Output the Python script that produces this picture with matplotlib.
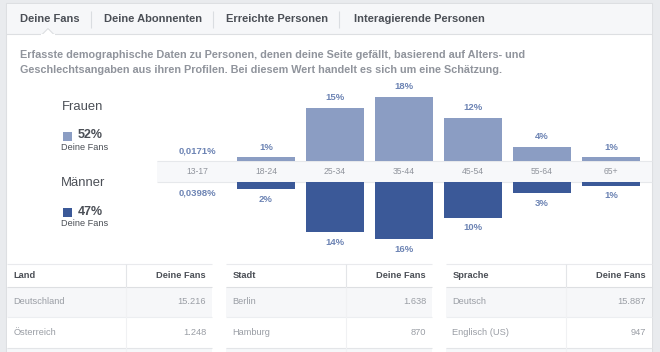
import matplotlib
matplotlib.use("Agg")
import matplotlib.pyplot as plt
from matplotlib.patches import Rectangle, Polygon
from matplotlib import font_manager

# ---------------- data ----------------
tabs = ["Deine Fans", "Deine Abonnenten", "Erreichte Personen", "Interagierende Personen"]
description = ["Erfasste demographische Daten zu Personen, denen deine Seite gefällt, basierend auf Alters- und",
               "Geschlechtsangaben aus ihren Profilen. Bei diesem Wert handelt es sich um eine Schätzung."]
age_groups = ["13-17", "18-24", "25-34", "35-44", "45-54", "55-64", "65+"]
women = [0.0171, 1, 15, 18, 12, 4, 1]
men = [0.0398, 2, 14, 16, 10, 3, 1]
women_labels = ["0,0171%", "1%", "15%", "18%", "12%", "4%", "1%"]
men_labels = ["0,0398%", "2%", "14%", "16%", "10%", "3%", "1%"]
women_total = "52%"
men_total = "47%"

countries = ["Deutschland", "Österreich"]
country_fans = ["15.216", "1.248"]
cities = ["Berlin", "Hamburg"]
city_fans = ["1.638", "870"]
languages = ["Deutsch", "Englisch (US)"]
language_fans = ["15.887", "947"]

# ---------------- style ----------------
avail = {f.name for f in font_manager.fontManager.ttflist}
FONT = "Liberation Sans" if "Liberation Sans" in avail else "DejaVu Sans"
plt.rcParams["font.family"] = [FONT, "DejaVu Sans"]

C_BG = "#e9ebee"
C_HEAD = "#f6f7f9"
C_BORDER = "#dddfe2"
C_DARK = "#4b4f56"
C_GRAY = "#90949c"
C_F = "#8b9dc3"
C_M = "#3b5998"
C_LBL = "#6d84b4"

W, H = 660, 352
fig = plt.figure(figsize=(W / 100, H / 100), dpi=100)
fig.patch.set_facecolor(C_BG)

bg = fig.add_axes([0, 0, 1, 1])
bg.set_xlim(0, W)
bg.set_ylim(H, 0)
bg.axis("off")

def rect(x0, y0, x1, y1, fc, ec="none", lw=0.0, z=1):
    bg.add_patch(Rectangle((x0, y0), x1 - x0, y1 - y0, facecolor=fc, edgecolor=ec, lw=lw, zorder=z))

def hline(x0, x1, y, c=C_BORDER, lw=0.8, z=3):
    bg.plot([x0, x1], [y, y], color=c, lw=lw, zorder=z, solid_capstyle="butt")

def vline(x, y0, y1, c=C_BORDER, lw=0.8, z=3):
    bg.plot([x, x], [y0, y1], color=c, lw=lw, zorder=z, solid_capstyle="butt")

# card
rect(6, 3, 652, 360, "white", ec=C_BORDER, lw=0.8)
rect(6.5, 3.5, 651.5, 34, C_HEAD)
hline(6, 652, 34)
# notch under active tab
bg.add_patch(Polygon([[42, 34.6], [48, 28.5], [54, 34.6]], closed=True, facecolor="white",
                     edgecolor=C_BORDER, lw=0.8, zorder=4))
rect(41, 34.1, 55, 36, "white", z=5)

# tabs
tab_x = [20, 104, 226, 354]
for tx, t in zip(tab_x, tabs):
    bg.text(tx, 19.5, t, fontsize=8, fontweight="bold", color=C_DARK, va="center", ha="left")
for sx in [91, 213, 339]:
    vline(sx, 11, 28, c="#dadde1")

# description
for i, line in enumerate(description):
    bg.text(20, 54.5 + 15.5 * i, line, fontsize=7.8, fontweight="bold", color=C_GRAY, va="center", ha="left")

# legend
bg.text(62, 107, "Frauen", fontsize=9.4, color=C_DARK, va="center", ha="left")
rect(63, 132, 72, 141, C_F)
bg.text(77.5, 135, women_total, fontsize=9, fontweight="bold", color=C_DARK, va="center", ha="left")
bg.text(61, 147, "Deine Fans", fontsize=6.6, color=C_DARK, va="center", ha="left")

bg.text(61, 183, "Männer", fontsize=9.4, color=C_DARK, va="center", ha="left")
rect(63, 208, 72, 217, C_M)
bg.text(77.5, 212, men_total, fontsize=9, fontweight="bold", color=C_DARK, va="center", ha="left")
bg.text(61, 224, "Deine Fans", fontsize=6.6, color=C_DARK, va="center", ha="left")

# center band
rect(157, 160.5, 652, 181.5, "#f7f8fa", z=2)
hline(157, 652, 160.5, c="#e6e8eb", lw=0.8)
hline(157, 652, 181.5, c="#e6e8eb", lw=0.8)

# ---------------- bar axes ----------------
PX_PER = 3.55
ax_left = 162.5
ax_w = 483
top_y = 90
f_base = 161
m_base = 182
m_bottom = 252

def frac_rect(x0, y_top, w, h):
    return [x0 / W, (H - y_top - h) / H, w / W, h / H]

axf = fig.add_axes(frac_rect(ax_left, top_y, ax_w, f_base - top_y))
axm = fig.add_axes(frac_rect(ax_left, m_base, ax_w, m_bottom - m_base))
for a in (axf, axm):
    a.set_facecolor("none")
    a.set_xlim(-0.5, len(age_groups) - 0.5)
    for s in a.spines.values():
        s.set_visible(False)
    a.set_yticks([])

axf.set_ylim(0, (f_base - top_y) / PX_PER)
axm.set_ylim((m_bottom - m_base) / PX_PER, 0)

xs = list(range(len(age_groups)))
axf.bar(xs, women, width=0.84, color=C_F, lw=0, zorder=2)
axm.bar(xs, men, width=0.84, color=C_M, lw=0, zorder=2)

for x, v, lab in zip(xs, women, women_labels):
    axf.annotate(lab, (x, v), xytext=(0, 7.5), textcoords="offset points", ha="center", va="center",
                 fontsize=6.8, fontweight="bold", color=C_LBL, annotation_clip=False)
for x, v, lab in zip(xs, men, men_labels):
    axm.annotate(lab, (x, v), xytext=(0, -7.5), textcoords="offset points", ha="center", va="center",
                 fontsize=6.8, fontweight="bold", color=C_LBL, annotation_clip=False)

axf.set_xticks(xs)
axf.set_xticklabels(age_groups)
axf.tick_params(axis="x", length=0, pad=4.3, labelsize=6.2, labelcolor=C_GRAY)
axm.set_xticks([])

# ---------------- tables ----------------
tables = [
    (7, 212, 126, "Land", countries, country_fans),
    (226, 432, 346, "Stadt", cities, city_fans),
    (446, 652, 566, "Sprache", languages, language_fans),
]
hdr_y0, hdr_y1 = 264, 287
row_y = [(287, 317), (317, 348), (348, 380)]
for x0, x1, xsep, head, names, vals in tables:
    rect(x0, hdr_y0, x1, hdr_y1, "white", z=2)
    rect(x0, row_y[0][0], x1, row_y[0][1], C_HEAD, z=2)
    rect(x0, row_y[1][0], x1, row_y[1][1], "white", z=2)
    rect(x0, row_y[2][0], x1, row_y[2][1], C_HEAD, z=2)
    hline(x0, x1, hdr_y0, c="#e9eaed")
    hline(x0, x1, hdr_y1, c="#dddfe2")
    hline(x0, x1, row_y[1][0], c="#eceef1")
    hline(x0, x1, row_y[2][0], c="#e3e5e8")
    vline(xsep, hdr_y0, hdr_y1, c="#e3e5e8")
    vline(xsep, hdr_y1, H, c="#f0f1f3")
    bg.text(x0 + 6.5, 275.5, head, fontsize=6.7, fontweight="bold", color=C_DARK, va="center", ha="left", zorder=5)
    bg.text(x1 - 6, 275.5, "Deine Fans", fontsize=6.7, fontweight="bold", color=C_DARK, va="center", ha="right", zorder=5)
    for (ya, yb), n, v in zip(row_y[:2], names, vals):
        yc = (ya + yb) / 2
        bg.text(x0 + 6.5, yc, n, fontsize=6.7, color="#9a9ea5", va="center", ha="left", zorder=5)
        bg.text(x1 - 6, yc, v, fontsize=6.7, color="#9a9ea5", va="center", ha="right", zorder=5)

fig.savefig("out.png", dpi=100, facecolor=fig.get_facecolor())
